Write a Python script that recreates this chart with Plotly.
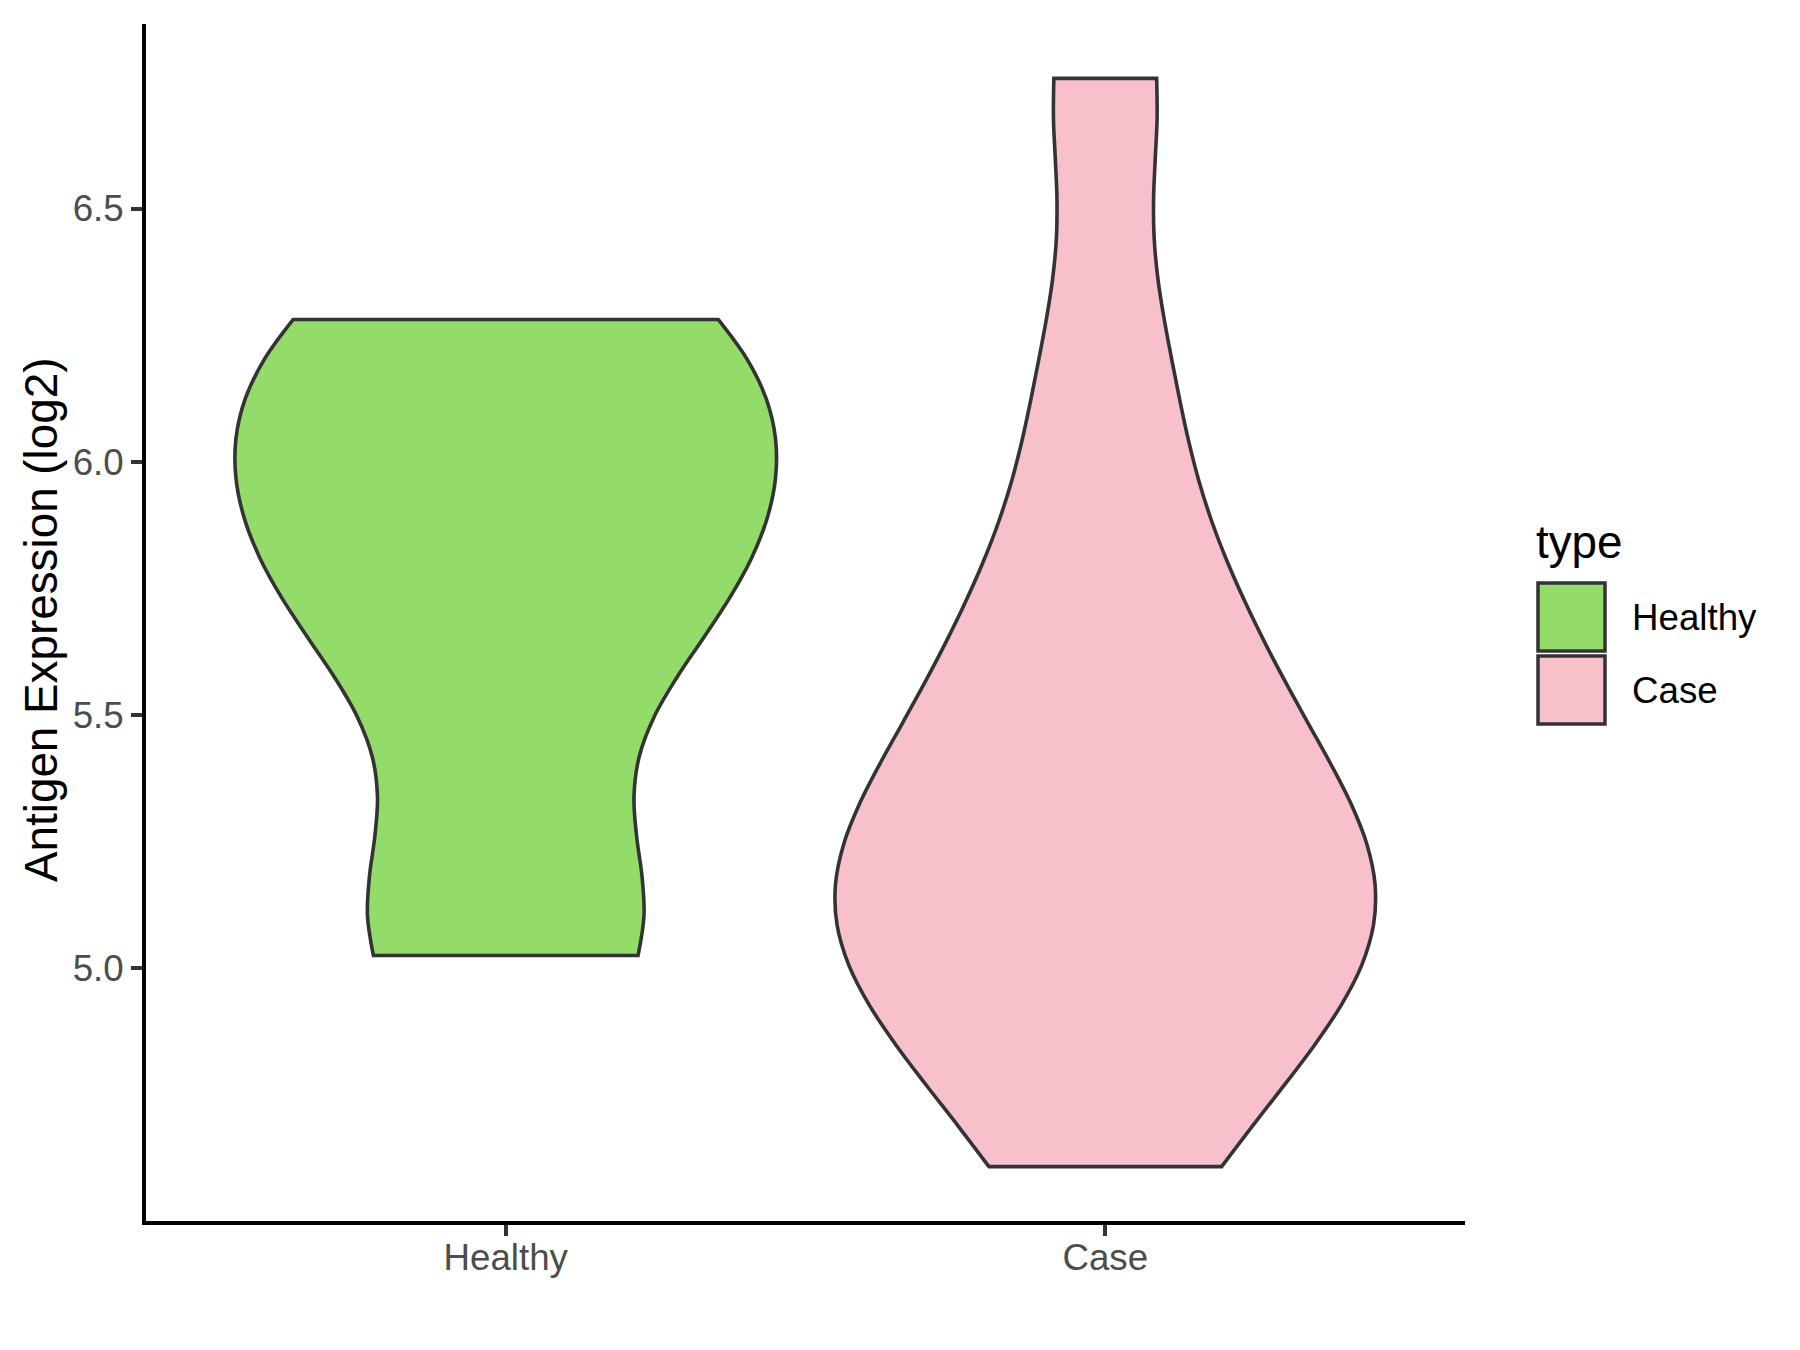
import plotly.graph_objects as go

# ---------------- data ----------------
categories = ["Healthy", "Case"]
healthy_values = [5.025, 5.12, 5.68, 5.71, 5.99, 6.01, 6.26, 6.281]
case_values = [4.608, 4.82, 4.95, 5.05, 5.12, 5.2, 5.31, 5.43, 5.61, 5.8, 6.18, 6.757]
bandwidths = [0.25, 0.24]
y_tick_values = [5.0, 5.5, 6.0, 6.5]
y_tick_labels = ["5.0", "5.5", "6.0", "6.5"]
y_title = "Antigen Expression (log2)"
legend_title = "type"

# ---------------- styles ----------------
fill_colors = ["#93DC6A", "#F7C0CB"]
outline = "#333333"
font_family = "Liberation Sans, Arial, sans-serif"
W, H = 1800, 1350
PAGE = 8  # default body margin of the html page
L, R, T, B = 138, 343, 16, 137
plot_w = W - L - R
plot_h = H - T - B

series = [healthy_values, case_values]

fig = go.Figure()
for cat, vals, bw, col in zip(categories, series, bandwidths, fill_colors):
    fig.add_trace(go.Violin(
        x=[cat] * len(vals), y=vals, name=cat,
        bandwidth=bw, spanmode="hard", scalemode="width", width=0.9,
        fillcolor=col, line=dict(color=outline, width=3.6),
        points=False, box_visible=False, meanline_visible=False,
        showlegend=False, hoverinfo="y",
    ))

all_vals = healthy_values + case_values
lo, hi = min(all_vals), max(all_vals)
pad = 0.05 * (hi - lo)

axis_common = dict(
    showline=True, linecolor="black", linewidth=4,
    ticks="outside", ticklen=11, tickwidth=3.5, tickcolor=outline,
    tickfont=dict(family=font_family, size=36.7, color="#4D4D4D"),
    showgrid=False, zeroline=False,
)

fig.update_layout(
    width=W, height=H,
    margin=dict(l=L, r=R, t=T, b=B, autoexpand=False),
    paper_bgcolor="white", plot_bgcolor="white",
    violinmode="overlay",
    xaxis=dict(type="category", categoryorder="array", categoryarray=categories,
               range=[-0.6, 1.6], ticklabelstandoff=-10, **axis_common),
    yaxis=dict(range=[lo - pad, hi + pad], tickvals=y_tick_values,
               ticktext=y_tick_labels, **axis_common),
    font=dict(family=font_family),
)

def px_to_paper_x(px):
    return (px - PAGE - L) / plot_w

def px_to_paper_y(py):
    return (H - B - (py - PAGE)) / plot_h

# y-axis title
fig.add_annotation(
    text=y_title, xref="paper", yref="paper",
    x=px_to_paper_x(41), y=px_to_paper_y(620), textangle=-90,
    showarrow=False, xanchor="center", yanchor="middle",
    font=dict(family=font_family, size=45.8, color="black"),
)

# legend (ggplot-style keys)
fig.add_annotation(
    text=legend_title, xref="paper", yref="paper",
    x=px_to_paper_x(1534), y=px_to_paper_y(542), showarrow=False,
    xanchor="left", yanchor="middle",
    font=dict(family=font_family, size=45.8, color="black"),
)
key_tops = [583, 656]
key_h = 68
for cat, col, top in zip(categories, fill_colors, key_tops):
    fig.add_shape(
        type="rect", xref="paper", yref="paper",
        x0=px_to_paper_x(1538), x1=px_to_paper_x(1605),
        y0=px_to_paper_y(top + key_h), y1=px_to_paper_y(top),
        fillcolor=col, line=dict(color=outline, width=3.5),
    )
    fig.add_annotation(
        text=cat, xref="paper", yref="paper",
        x=px_to_paper_x(1630), y=px_to_paper_y(top + key_h / 2),
        showarrow=False, xanchor="left", yanchor="middle",
        font=dict(family=font_family, size=36.7, color="black"),
    )

fig.write_html("out.html")
